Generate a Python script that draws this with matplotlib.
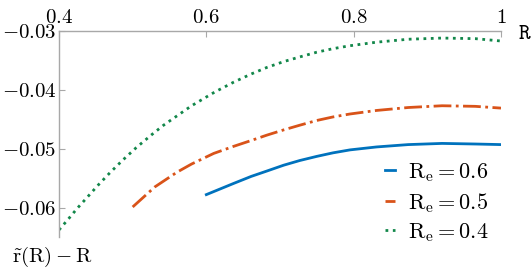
import matplotlib
matplotlib.use("Agg")
import matplotlib.pyplot as plt

plt.rcParams["mathtext.fontset"] = "cm"
plt.rcParams["font.family"] = "serif"
plt.rcParams["font.serif"] = ["cmr10", "DejaVu Serif"]
plt.rcParams["axes.unicode_minus"] = False

BLUE, ORANGE, GREEN, AXC = "#0072BD", "#D95319", "#12874a", "#a8a8a8"

r_06 = [0.600, 0.637, 0.661, 0.682, 0.705, 0.727, 0.750, 0.772, 0.795, 0.831,
        0.874, 0.920, 0.965, 1.000]
d_06 = [-0.0578, -0.0559, -0.0547, -0.0538, -0.0528, -0.0520, -0.0513, -0.0507,
        -0.0502, -0.0497, -0.0493, -0.0491, -0.0492, -0.0493]
r_05 = [0.500, 0.530, 0.560, 0.580, 0.610, 0.637, 0.661, 0.682, 0.705, 0.727,
        0.750, 0.772, 0.795, 0.831, 0.874, 0.920, 0.965, 1.000]
d_05 = [-0.0599, -0.0565, -0.0540, -0.0526, -0.0508, -0.0496, -0.0486, -0.0477,
        -0.0468, -0.0460, -0.0452, -0.0446, -0.0441, -0.0435, -0.0430, -0.0427,
        -0.0428, -0.0431]
r_04 = [0.400, 0.413, 0.425, 0.438, 0.453, 0.469, 0.486, 0.505, 0.526, 0.542,
        0.580, 0.611, 0.637, 0.661, 0.682, 0.705, 0.727, 0.750, 0.772, 0.795,
        0.831, 0.874, 0.920, 0.965, 1.000]
d_04 = [-0.0638, -0.0619, -0.0601, -0.0583, -0.0562, -0.0541, -0.0520, -0.0498,
        -0.0476, -0.0460, -0.0427, -0.0404, -0.0387, -0.0373, -0.0362, -0.0352,
        -0.0344, -0.0336, -0.0330, -0.0325, -0.0319, -0.0314, -0.0312, -0.0313,
        -0.0317]
xticks = [0.4, 0.6, 0.8, 1.0]
xtick_labels = ["0.4", "0.6", "0.8", "1"]
yticks = [-0.06, -0.05, -0.04, -0.03]
ytick_labels = ["-0.06", "-0.05", "-0.04", "-0.03"]

fig = plt.figure(figsize=(5.32, 2.72), dpi=100)
ax = fig.add_axes([59 / 532, 1 - 237 / 272, (501 - 59) / 532, (237 - 31) / 272])

ax.plot(r_06, d_06, color=BLUE, lw=2, ls="-", label=r"$\mathrm{R_e} = 0.6$")
ax.plot(r_05, d_05, color=ORANGE, lw=2, ls="-.", label=r"$\mathrm{R_e} = 0.5$")
ax.plot(r_04, d_04, color=GREEN, lw=2, ls=":", label=r"$\mathrm{R_e} = 0.4$")

ax.set_xlim(0.4, 1.0)
ax.set_ylim(-0.065, -0.03)
ax.xaxis.tick_top()
ax.set_xticks(xticks)
ax.set_xticklabels([f"${t}$" for t in xtick_labels])
ax.set_yticks(yticks)
ax.set_yticklabels([f"${t}$" for t in ytick_labels])
ax.tick_params(direction="in", length=4, color=AXC, labelsize=15, pad=3)
ax.tick_params(axis="y", pad=2)
for sp in ("bottom", "right"):
    ax.spines[sp].set_visible(False)
for sp in ("top", "left"):
    ax.spines[sp].set_color(AXC)
    ax.spines[sp].set_linewidth(1)

fig.text(518 / 532, 1 - 33 / 272, r"$\mathtt{R}$", fontsize=16, ha="left", va="center")
fig.text(12 / 532, 1 - 257 / 272, r"$\tilde{\mathrm{r}}(\mathrm{R}) - \mathrm{R}$",
         fontsize=15, ha="left", va="center")

ax.legend(loc="upper left", bbox_to_anchor=(374 / 532, 1 - 150 / 272),
          bbox_transform=fig.transFigure, frameon=False, fontsize=16,
          handlelength=0.45, handletextpad=0.6, labelspacing=0.3, borderpad=0)

fig.savefig("out.png", facecolor="white")
